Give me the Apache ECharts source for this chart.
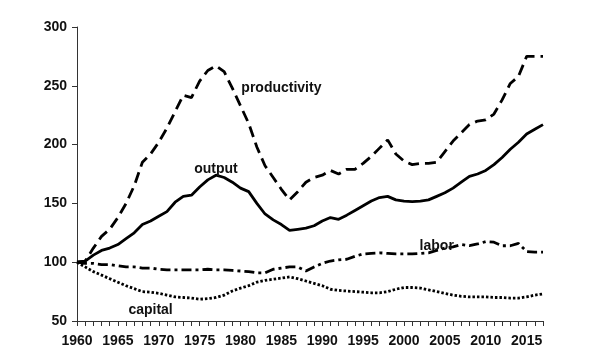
<!DOCTYPE html>
<html><head><meta charset="utf-8">
<script src="https://cdn.jsdelivr.net/npm/echarts@6/dist/echarts.min.js"></script>
<style>html,body{margin:0;padding:0;background:#fff}#c{width:600px;height:360px}</style>
</head><body><div id="c"></div>
<script>
const years = [];
for (let y = 1960; y <= 2017; y++) years.push(String(y));

const productivity = [100,101,112,122,128,138,150,165,185,192,202,214,228,242,240,254,263,267,262,248,233,218,198,182,172,162,153,160,168,172,174,178,175,179,179,184,190,197,204,192,186,183,184,184,185,194,203,210,217,220,221,226,238,252,258,275,275,275];
const output = [100,101,106,110,112,115,120,125,132,135,139,143,151,156,157,164,170,174,172,168,163,160,150,141,136,132,127,128,129,131,135,138,136.5,140,144,148,152,155,156,153,152,151.5,152,153,156,159,163,168,173,175,178,183,189,196,202,209,213,217];
const labor = [100,99,99,98,98,97,96,96,95,95,94,93.5,93.5,93.5,93.5,93.5,94,93.5,93.5,93,92.5,92,91,91,94,95,96,96,92.5,96,99,101,102,102.5,105,107,107.5,108,107.5,107,107,107,107.5,108,110,112,113,115,114,115.5,117.5,117,114,114,116,109,108.5,108.5];
const capital = [100,96,92,89,86,83,80,77.5,75,74.5,73.5,72,70.5,70,69.5,68.5,69,70,72,75.5,78,80,83,84.5,85.5,86.5,87.5,86,84,82,80,77,76,75.5,75,74.5,74,74,75,77,78.5,78.5,78,76.5,75,73.5,72,71,70.5,70.5,70.5,70,70,69.5,69.5,70.5,72,73];

const seriesNames = ['productivity','output','labor','capital'];
const labelAnchors = [['1985',248],['1977',179],['2004',114],['1969',59]];

const chart = echarts.init(document.getElementById('c'), null, {renderer:'canvas'});
const font = {fontFamily:'Liberation Sans, Arial, sans-serif', fontWeight:'bold', fontSize:14, color:'#111'};

function lbl(i){
  return {
    symbol:'circle', symbolSize:0, silent:true,
    label:{show:true, position:'inside', formatter:seriesNames[i], ...font},
    data:[{coord:labelAnchors[i]}]
  };
}
function mk(i, data, type){
  return {
    name: seriesNames[i], type:'line', data, symbol:'none', smooth:false,
    lineStyle:{color:'#000', width:2.8, type, cap:'butt'},
    markPoint: lbl(i), z: 3
  };
}
chart.setOption({
  animation:false,
  grid:{left:77, right:57, top:27, bottom:39},
  xAxis:{
    type:'category', data:years, boundaryGap:false,
    axisLine:{lineStyle:{color:'#333', width:1}},
    axisTick:{interval:0, length:5, lineStyle:{color:'#333'}},
    axisLabel:{interval:4, margin:13, ...font},
    splitLine:{show:false}
  },
  yAxis:{
    type:'value', min:50, max:300, interval:50,
    axisLine:{show:true, lineStyle:{color:'#333', width:1}},
    axisTick:{show:true, length:5, lineStyle:{color:'#333'}},
    axisLabel:{margin:10, ...font},
    splitLine:{show:false}
  },
  series:[
    mk(0, productivity, [11,6]),
    mk(1, output, 'solid'),
    mk(2, labor, [10,4,3,4]),
    mk(3, capital, [2.5,2])
  ]
});
</script></body></html>
